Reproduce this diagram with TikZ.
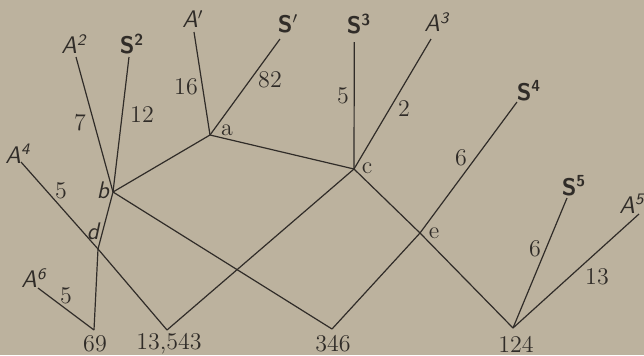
\documentclass[tikz,border=0pt]{standalone}
\definecolor{paper}{RGB}{188,178,158}
\definecolor{ink}{RGB}{48,44,40}
\tikzset{
  edge/.style={draw=ink, line width=0.6pt},
  tip/.style={text=ink, font=\large\sffamily, inner sep=1pt},
  wt/.style={text=ink, font=\large, inner sep=1pt},
  jn/.style={text=ink, font=\large, inner sep=1pt},
}

\begin{document}
\begin{tikzpicture}[x=0.5pt,y=-0.5pt]
    \fill[paper] (0,0) rectangle (644,355);
    \useasboundingbox (0,0) rectangle (644,355);

    % junctions
    \coordinate (a) at (210,135);
    \coordinate (b) at (113,192);
    \coordinate (c) at (354,169);
    \coordinate (d) at (98,249);
    \coordinate (e) at (420,233);
    % bottom ends
    \coordinate (f69) at (94,330);
    \coordinate (f13) at (167,330);
    \coordinate (f346) at (332,329);
    \coordinate (f124) at (513,328);
    % free ends at the top
    \coordinate (tA1) at (194,32);
    \coordinate (tS1) at (280,39);
    \coordinate (tS3) at (354.3,42);
    \coordinate (tA3) at (431,39);
    \coordinate (tA2) at (76,57);
    \coordinate (tS2) at (129,57);
    \coordinate (tA4) at (21,162);
    \coordinate (tA6) at (38,288);
    \coordinate (tS4) at (517,102);
    \coordinate (tS5) at (567,198);
    \coordinate (tA5) at (639,214);

    \foreach \u/\v in {tA1/a,tS1/a,a/b,a/c,tS3/c,tA3/c,c/e,e/f124,tS4/e,e/f346,
                       c/f13,b/f346,tA2/b,tS2/b,b/d,d/f69,tA4/d,d/f13,tA6/f69,
                       tS5/f124,tA5/f124}
      \draw[edge] (\u) -- (\v);

    % end labels
    \node[tip] (lA1) at (193,19) {\slshape A$'$};
    \node[tip] (lS1) at (288,24) {\bfseries S$'$};
    \node[tip] (lS3) at (359,24) {\bfseries S\textsuperscript{3}};
    \node[tip] (lA3) at (437,22) {\slshape A\textsuperscript{3}};
    \node[tip] (lA2) at (74,44) {\slshape A\textsuperscript{2}};
    \node[tip] (lS2) at (132,44) {\bfseries S\textsuperscript{2}};
    \node[tip] (lA4) at (18,154) {\slshape A\textsuperscript{4}};
    \node[tip] (lA6) at (34,278) {\slshape A\textsuperscript{6}};
    \node[tip] (lS4) at (529,91) {\bfseries S\textsuperscript{4}};
    \node[tip] (lS5) at (574,186) {\bfseries S\textsuperscript{5}};
    \node[tip, inner sep=0pt] (lA5) at (632,204) {\slshape A\textsuperscript{5}};
    \node[wt] (l69) at (95,344) {69};
    \node[wt] (l13) at (169,344) {13,543};
    \node[wt] (l346) at (333,344) {346};
    \node[wt] (l124) at (516,344) {124};

    % junction letters
    \node[jn] (la) at (227,130) {a};
    \node[jn] (lb) at (103,190) {\sffamily\slshape b};
    \node[jn] (lc) at (367,168) {c};
    \node[jn] (ld) at (93,231) {\sffamily\slshape d};
    \node[jn] (le) at (434,233) {e};

    % weights
    \node[wt] (w16) at (186,87) {16};
    \node[wt] (w82) at (270,80) {82};
    \node[wt] (w5a) at (343,96) {5};
    \node[wt] (w2) at (404,109) {2};
    \node[wt] (w7) at (80,123) {7};
    \node[wt] (w12) at (142,115) {12};
    \node[wt] (w5b) at (61,191) {5};
    \node[wt] (w5c) at (66,296) {5};
    \node[wt] (w6a) at (461,158) {6};
    \node[wt] (w6b) at (535,249) {6};
    \node[wt] (w13) at (597,277) {13};
  \end{tikzpicture}
\end{document}
